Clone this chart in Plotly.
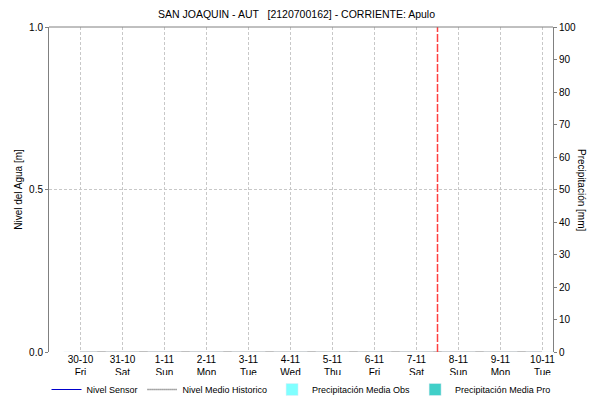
import plotly.graph_objects as go

# dias del periodo (oct-nov 2020)
fechas = ["2020-10-30", "2020-10-31", "2020-11-01", "2020-11-02", "2020-11-03", "2020-11-04",
          "2020-11-05", "2020-11-06", "2020-11-07", "2020-11-08", "2020-11-09", "2020-11-10"]
etiquetas = ["30-10<br>Fri", "31-10<br>Sat", "1-11<br>Sun", "2-11<br>Mon", "3-11<br>Tue", "4-11<br>Wed",
             "5-11<br>Thu", "6-11<br>Fri", "7-11<br>Sat", "8-11<br>Sun", "9-11<br>Mon", "10-11<br>Tue"]
nivel_sensor = [None] * 12
nivel_historico = [0, 0, 0, 0, 0, 0, 0, 0, 0, 0, 0, 0]
precip_obs = [0, 0, 0, 0, 0, 0, 0, 0, 0, 0, 0, 0]
precip_pro = [0, 0, 0, 0, 0, 0, 0, 0, 0, 0, 0, 0]
ahora = "2020-11-07 12:00"
rango = ["2020-10-29 06:00", "2020-11-10 06:00"]

fig = go.Figure()
fig.add_trace(go.Scatter(x=fechas, y=nivel_sensor, name="Nivel Sensor", mode="lines",
                         line=dict(color="#0000cc", width=1)))
fig.add_trace(go.Scatter(x=fechas, y=nivel_historico, name="Nivel Medio Historico", mode="lines",
                         line=dict(color="#555555", width=1.5, dash="1px,1px")))
fig.add_trace(go.Bar(x=fechas, y=precip_obs, name="Precipitación Media Obs",
                     marker_color="#80ffff", yaxis="y2"))
fig.add_trace(go.Bar(x=fechas, y=precip_pro, name="Precipitación Media Pro",
                     marker_color="#40cfc8", yaxis="y2"))

fig.add_shape(type="line", x0=ahora, x1=ahora, y0=0, y1=1, yref="paper",
              line=dict(color="#ff4040", width=1.5, dash="8px,2px"), layer="above")
fig.add_shape(type="line", x0=0, x1=1, xref="paper", y0=1, y1=1, yref="paper",
              line=dict(color="#808080", width=1))

fig.update_layout(
    width=593, height=404,
    margin=dict(l=49, r=40, t=27, b=52, autoexpand=False),
    paper_bgcolor="white", plot_bgcolor="white",
    font=dict(family="Liberation Sans", size=10, color="#000000"),
    title=dict(text="SAN JOAQUIN - AUT   [2120700162] - CORRIENTE: Apulo",
               x=0.5, xanchor="center", y=0.965, yanchor="middle",
               font=dict(size=10.5)),
    showlegend=True,
    legend=dict(orientation="h", x=0.5, xanchor="center",
                y=0.0, yref="container", yanchor="bottom", itemwidth=30,
                font=dict(size=9), tracegroupgap=0, traceorder="normal"),
    xaxis=dict(type="date", range=rango, tickvals=fechas, ticktext=etiquetas,
               showgrid=True, gridcolor="#c8c8c8", griddash="3px,2px", gridwidth=1,
               ticks="", showline=False, zeroline=False, automargin=False),
    yaxis=dict(range=[0, 1], dtick=0.5, tickformat=".1f",
               showgrid=True, gridcolor="#c8c8c8", griddash="3px,2px",
               showline=True, linecolor="#808080", linewidth=1,
               ticks="outside", ticklen=3, tickcolor="#808080", zeroline=False,
               automargin=False,
               title=dict(text="Nivel del Agua [m]", font=dict(size=10), standoff=4)),
    yaxis2=dict(range=[0, 100], dtick=10, overlaying="y", side="right",
                showgrid=False, showline=True, linecolor="#808080", linewidth=1,
                ticks="outside", ticklen=3, tickcolor="#808080", zeroline=False,
                automargin=False),
    annotations=[dict(text="Precipitación [mm]", textangle=90, x=1.0, xref="paper",
                      xshift=36, y=0.5, yref="paper", showarrow=False,
                      font=dict(size=10))],
)

# sin margen del body para que la figura ocupe la ventana entera
fig.write_html("out.html", config={"displayModeBar": False},
               post_script="document.body.style.margin='0';")
